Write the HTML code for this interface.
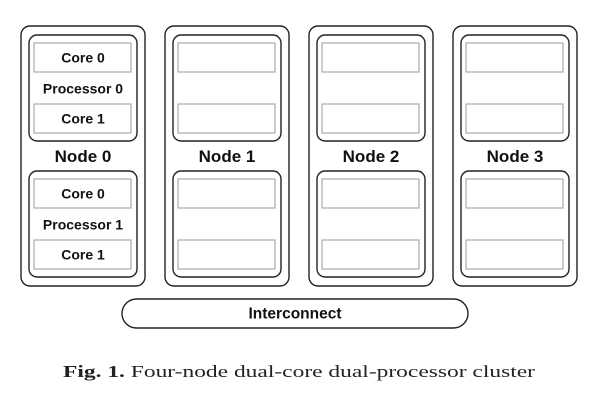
<!DOCTYPE html>
<html><head><meta charset="utf-8"><style>
html,body{margin:0;padding:0;background:#fff;}
svg{display:block}
.b{font-family:"Liberation Sans",sans-serif;font-weight:bold;fill:#111;text-anchor:middle}
</style></head><body>
<svg width="594" height="408" viewBox="0 0 594 408" xmlns="http://www.w3.org/2000/svg">
<g fill="none" stroke="#222" stroke-width="1.4">
<rect x="21" y="26" width="124" height="260" rx="9"/>
<rect x="165" y="26" width="124" height="260" rx="9"/>
<rect x="309" y="26" width="124" height="260" rx="9"/>
<rect x="453" y="26" width="124" height="260" rx="9"/>
<rect x="29" y="35" width="108" height="106" rx="8"/>
<rect x="173" y="35" width="108" height="106" rx="8"/>
<rect x="317" y="35" width="108" height="106" rx="8"/>
<rect x="461" y="35" width="108" height="106" rx="8"/>
<rect x="29" y="171" width="108" height="106" rx="8"/>
<rect x="173" y="171" width="108" height="106" rx="8"/>
<rect x="317" y="171" width="108" height="106" rx="8"/>
<rect x="461" y="171" width="108" height="106" rx="8"/>
<rect x="122" y="299" width="346" height="29" rx="14.5"/>
</g>
<g fill="none" stroke="#999" stroke-width="1">
<rect x="34" y="43" width="97" height="29"/><rect x="34" y="104" width="97" height="29"/>
<rect x="34" y="179" width="97" height="29"/><rect x="34" y="240" width="97" height="29"/>
<rect x="178" y="43" width="97" height="29"/><rect x="178" y="104" width="97" height="29"/>
<rect x="178" y="179" width="97" height="29"/><rect x="178" y="240" width="97" height="29"/>
<rect x="322" y="43" width="97" height="29"/><rect x="322" y="104" width="97" height="29"/>
<rect x="322" y="179" width="97" height="29"/><rect x="322" y="240" width="97" height="29"/>
<rect x="466" y="43" width="97" height="29"/><rect x="466" y="104" width="97" height="29"/>
<rect x="466" y="179" width="97" height="29"/><rect x="466" y="240" width="97" height="29"/>
</g>
<g class="b" font-size="14">
<text x="83" y="62.5">Core 0</text>
<text x="83" y="93.5">Processor 0</text>
<text x="83" y="123.5">Core 1</text>
<text x="83" y="198.5">Core 0</text>
<text x="83" y="229.5">Processor 1</text>
<text x="83" y="259.5">Core 1</text>
</g>
<text class="b" x="295" y="318.5" font-size="15.5">Interconnect</text>
<g class="b" font-size="17">
<text x="83" y="162">Node 0</text>
<text x="227" y="162">Node 1</text>
<text x="371" y="162">Node 2</text>
<text x="515" y="162">Node 3</text>
</g>
<text x="63" y="377" font-family="Liberation Serif,serif" font-size="17" fill="#222" textLength="472" lengthAdjust="spacingAndGlyphs"><tspan font-weight="bold">Fig. 1.</tspan> Four-node dual-core dual-processor cluster</text>
</svg>
</body></html>
